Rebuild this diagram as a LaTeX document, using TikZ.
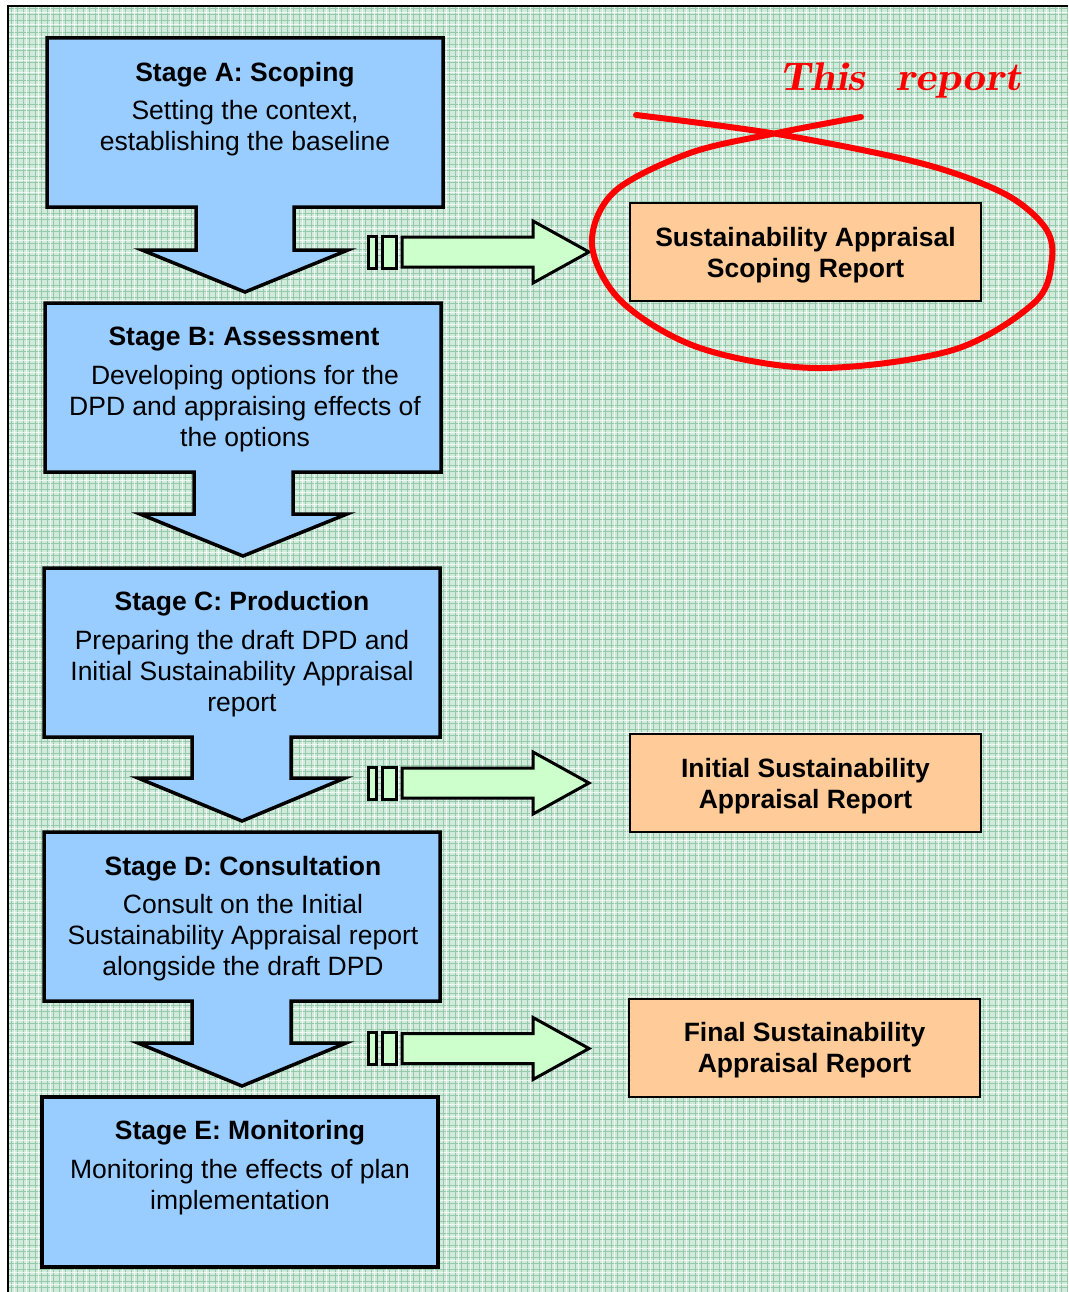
\documentclass[tikz,border=0pt]{standalone}
\usepackage{fontspec}
\setmainfont{Liberation Sans}
\definecolor{bgbase}{HTML}{D2EADB}
\definecolor{plaidA}{HTML}{94C9AA}
\definecolor{stageblue}{HTML}{99CCFF}
\definecolor{reportorange}{HTML}{FFCC99}
\definecolor{arrowgreen}{HTML}{CCFFCC}
\tikzset{
  stagebox/.style={draw=black, line width=3.5pt, fill=stageblue, line join=miter},
  greenarrow/.style={draw=black, line width=3pt, fill=arrowgreen, line join=miter},
  reportbox/.style={draw=black, line width=2pt, fill=reportorange, minimum width=351pt, minimum height=98pt, inner sep=0pt},
  rtext/.style={align=center, inner sep=0pt, font=\fontsize{26.5}{31}\selectfont\bfseries},
  stitle/.style={align=center, inner sep=0pt, font=\fontsize{26.5}{31}\selectfont\bfseries},
  sbody/.style={align=center, inner sep=0pt, font=\fontsize{26.5}{31}\selectfont},
  plaid/.style={draw=plaidA, line width=1pt},
  plaidw/.style={draw=white, line width=0.8pt, opacity=0.7},
  redpen/.style={draw=red, line width=6pt, line cap=round, line join=round}
}
\begin{document}
\begin{tikzpicture}[x=1pt,y=-1pt]
\useasboundingbox (0,0) rectangle (1068,1292);
% background plaid
\fill[bgbase] (8,6) rectangle (1068,1292);
\foreach \x in {11,17,...,1067} \draw[plaid] (\x,6) -- (\x,1292);
\foreach \y in {9,15,...,1291} \draw[plaid] (8,\y) -- (1068,\y);
\foreach \x in {14,26,...,1067} \draw[plaidw] (\x,6) -- (\x,1292);
\foreach \y in {12,24,...,1291} \draw[plaidw] (8,\y) -- (1068,\y);
\draw[black, line width=1.2pt] (8,1292) -- (8,6) -- (1068,6);

% stage shapes
\draw[stagebox] (47,38) -- (443,38) -- (443,207) -- (294,207) -- (294,250) -- (348,250) -- (245,292) -- (142,250) -- (196,250) -- (196,207) -- (47,207) -- cycle;
\draw[stagebox] (45,303) -- (441,303) -- (441,472) -- (293,472) -- (293,514) -- (347,514) -- (243,556) -- (140,514) -- (194,514) -- (194,472) -- (45,472) -- cycle;
\draw[stagebox] (44,568) -- (440,568) -- (440,737) -- (291,737) -- (291,778) -- (345,778) -- (242,821) -- (138,778) -- (192,778) -- (192,737) -- (44,737) -- cycle;
\draw[stagebox] (44,832) -- (440,832) -- (440,1001) -- (291,1001) -- (291,1043) -- (346,1043) -- (242,1086) -- (138,1043) -- (192,1043) -- (192,1001) -- (44,1001) -- cycle;
\draw[stagebox] (42,1097) rectangle (438,1267);

% stage texts
\node[stitle] (tA) at (245,75) {Stage A: Scoping};
\node[sbody] (bA) at (245,128.5) {Setting the context,\\establishing the baseline};
\node[stitle] (tB) at (244,339) {Stage B: Assessment};
\node[sbody] (bB) at (245,408.5) {Developing options for the\\DPD and appraising effects of\\the options};
\node[stitle] (tC) at (242,604) {Stage C: Production};
\node[sbody] (bC) at (242,673.5) {Preparing the draft DPD and\\Initial Sustainability Appraisal\\report};
\node[stitle] (tD) at (243,869) {Stage D: Consultation};
\node[sbody] (bD) at (243,938) {Consult on the Initial\\Sustainability Appraisal report\\alongside the draft DPD};
\node[stitle] (tE) at (240,1133) {Stage E: Monitoring};
\node[sbody] (bE) at (240,1187.5) {Monitoring the effects of plan\\implementation};

% green arrows
\foreach \c in {252,783,1048.5} {
  \draw[greenarrow] (368,\c-16) rectangle (376,\c+16);
  \draw[greenarrow] (382,\c-16) rectangle (396,\c+16);
  \draw[greenarrow] (402,\c-15) -- (533,\c-15) -- (533,\c-31) -- (589,\c) -- (533,\c+31) -- (533,\c+15) -- (402,\c+15) -- cycle;
}

% report boxes
\node[reportbox] (r1) at (805.5,252) {};
\node[rtext] (r1t) at (805.5,255) {Sustainability Appraisal\\Scoping Report};
\node[reportbox] (r2) at (805.5,783) {};
\node[rtext] (r2t) at (805.5,786) {Initial Sustainability\\Appraisal Report};
\node[reportbox] (r3) at (804.5,1047.5) {};
\node[rtext] (r3t) at (804.5,1050.5) {Final Sustainability\\Appraisal Report};

% red annotation
\draw[redpen] plot[smooth, tension=0.55] coordinates {(636,115) (777,134) (920,163) (1003,193) (1044,226) (1052,258) (1035,302) (953,350) (817,368) (700,348) (622,302) (592,245) (614,192) (690,153) (777,133) (861,117)};
\node[red, inner sep=0pt, anchor=base west, font=\fontfamily{lmr}\fontsize{40}{44}\selectfont\bfseries\itshape] (note) at (779,91) {\scalebox{1.12}[1]{This\hspace{28pt}report}};
\end{tikzpicture}
\end{document}
